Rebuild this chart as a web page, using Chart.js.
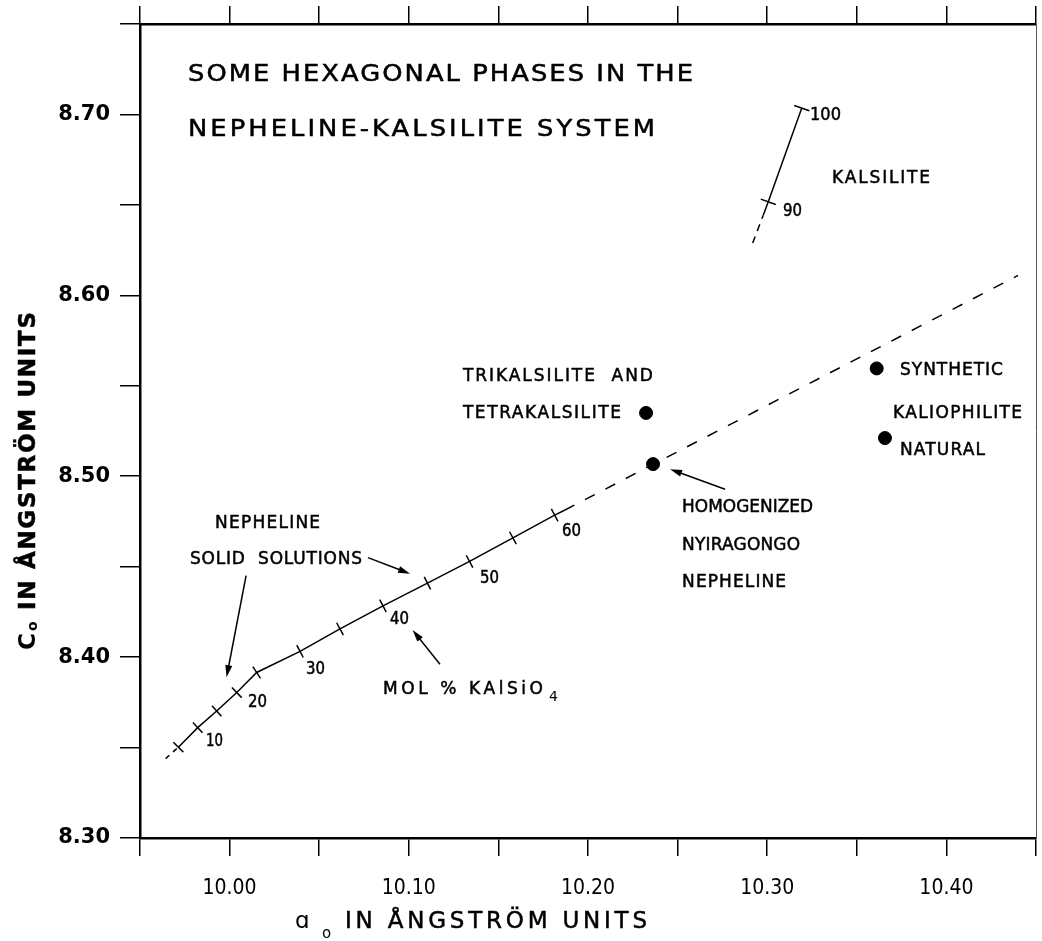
<!DOCTYPE html>
<html lang="en">
<head>
    <meta charset="UTF-8">
    <title>Some hexagonal phases in the nepheline-kalsilite system</title>
    <script src="https://cdn.jsdelivr.net/npm/chart.js"></script>
    <style>
        html, body { margin: 0; padding: 0; background: #fff; }
        #chart { display: block; }
    </style>
</head>
<body>
    <canvas id="chart" width="1042" height="941"></canvas>

    <script>
        // Nepheline solid solutions, a tick every 5 mol % KAlSiO4 (5 ... 60)
        const nephMol = [5, 10, 15, 20, 25, 30, 35, 40, 45, 50, 55, 60, null];
        const nephA = [9.9714, 9.9822, 9.9928, 10.004, 10.0151, 10.0393, 10.0616, 10.0856, 10.1104, 10.1339, 10.1581, 10.1814, 10.1869];
        const nephC = [8.3502, 8.361, 8.3702, 8.3804, 8.3915, 8.4032, 8.4156, 8.4283, 8.4409, 8.4529, 8.4659, 8.4785, 8.4812];
        // dashed bits: below 5 % and the extrapolation beyond the solid line
        const nephLowA = [9.9643, 9.9714];
        const nephLowC = [8.3439, 8.3502];
        const nephExtA = [10.1869, 10.44];
        const nephExtC = [8.4812, 8.611];

        // Kalsilite, ticks at 90 and 100 mol %
        const kalsMol = [null, 90, 100];
        const kalsA = [10.2978, 10.3006, 10.3193];
        const kalsC = [8.6443, 8.6517, 8.7035];
        const kalsExtA = [10.2919, 10.2978];
        const kalsExtC = [8.6289, 8.6443];

        // single phases (dots)
        const phaseNames = ['Trikalsilite and tetrakalsilite', 'Homogenized Nyiragongo nepheline', 'Synthetic kaliophilite', 'Natural kaliophilite'];
        const phaseA = [10.2324, 10.2363, 10.3611, 10.3657];
        const phaseC = [8.535, 8.5067, 8.5596, 8.5211];

        // axis labels
        const xLabels = ['10.00', '10.10', '10.20', '10.30', '10.40'];
        const yLabels = ['8.30', '8.40', '8.50', '8.60', '8.70'];

        const FONT = '"DejaVu Sans", "Liberation Sans", sans-serif';
        const big = '23px ' + FONT;
        const small = '17px ' + FONT;

        // text on the plot: text, a, c (left / middle), width in px, font, stretch
        const notes = [
            ['SOME HEXAGONAL PHASES IN THE', 9.9768, 8.7229, 505, big, 1.12],
            ['NEPHELINE-KALSILITE SYSTEM', 9.9768, 8.6928, 467, big, 1.12],
            ['KALSILITE', 10.3362, 8.6656, 98, small, 1],
            ['100', 10.3239, 8.7006, 31, small, 1],
            ['90', 10.3088, 8.6472, 19, small, 1],
            ['TRIKALSILITE  AND', 10.1302, 8.5561, 190, small, 1],
            ['TETRAKALSILITE', 10.1302, 8.5356, 158, small, 1],
            ['SYNTHETIC', 10.3741, 8.5594, 103, small, 1],
            ['KALIOPHILITE', 10.3702, 8.5356, 129, small, 1],
            ['NATURAL', 10.3741, 8.515, 85, small, 1],
            ['HOMOGENIZED', 10.2525, 8.4839, 131, small, 1],
            ['NYIRAGONGO', 10.2525, 8.4628, 118, small, 1],
            ['NEPHELINE', 10.2525, 8.4422, 104, small, 1],
            ['NEPHELINE', 9.9919, 8.475, 105, small, 1],
            ['SOLID  SOLUTIONS', 9.9779, 8.455, 172, small, 1],
            ['10', 9.9868, 8.3544, 17, small, 1],
            ['20', 10.0103, 8.3756, 19, small, 1],
            ['30', 10.0426, 8.3939, 19, small, 1],
            ['40', 10.0895, 8.4217, 19, small, 1],
            ['50', 10.1397, 8.4444, 19, small, 1],
            ['60', 10.1855, 8.4706, 19, small, 1],
            ['MOL % KAlSiO', 10.0856, 8.3828, 160, small, 1]
        ];

        // arrows: from (a, c) to (a, c)
        const arrows = [
            [10.0772, 8.455, 10.1007, 8.4461],
            [10.0092, 8.445, 9.9983, 8.3889],
            [10.1174, 8.3961, 10.1021, 8.415],
            [10.2765, 8.4928, 10.2458, 8.5039]
        ];

        const pts = (a, c) => a.map((v, i) => ({ x: v, y: c[i] }));

        // tick marks drawn perpendicular to the line
        function perpendicular(ctx) {
            const data = ctx.dataset.data;
            const i = ctx.dataIndex;
            const sx = ctx.chart.scales.x, sy = ctx.chart.scales.y;
            const p = data[Math.max(i - 1, 0)], q = data[Math.min(i + 1, data.length - 1)];
            const dx = sx.getPixelForValue(q.x) - sx.getPixelForValue(p.x);
            const dy = sy.getPixelForValue(q.y) - sy.getPixelForValue(p.y);
            return Math.atan2(dy, dx) * 180 / Math.PI + 90;
        }

        // left-aligned text stretched (or squeezed) to a given width, centred on yMid
        function fitText(ctx, text, x, yMid, width, font, k) {
            k = k || 1;
            const size = parseFloat(font.match(/([\d.]+)px/)[1]);
            ctx.font = font;
            ctx.letterSpacing = '0px';
            const w0 = ctx.measureText(text).width;
            if (k * w0 > width) k = width / w0;
            const sp = text.length > 1 ? (width - k * w0) / (text.length - 1) : 0;
            ctx.save();
            ctx.translate(x, yMid + size * 0.364);
            ctx.scale(k, 1);
            ctx.letterSpacing = (sp / k) + 'px';
            ctx.lineWidth = 0.5;
            ctx.fillText(text, 0, 0);
            ctx.strokeText(text, 0, 0);
            ctx.restore();
            ctx.letterSpacing = '0px';
        }

        function arrow(ctx, x1, y1, x2, y2) {
            const ang = Math.atan2(y2 - y1, x2 - x1);
            const len = 12, half = 3.5;
            ctx.beginPath();
            ctx.moveTo(x1, y1);
            ctx.lineTo(x2 - Math.cos(ang) * len * 0.8, y2 - Math.sin(ang) * len * 0.8);
            ctx.stroke();
            ctx.beginPath();
            ctx.moveTo(x2, y2);
            ctx.lineTo(x2 - Math.cos(ang) * len - Math.sin(ang) * half, y2 - Math.sin(ang) * len + Math.cos(ang) * half);
            ctx.lineTo(x2 - Math.cos(ang) * len + Math.sin(ang) * half, y2 - Math.sin(ang) * len - Math.cos(ang) * half);
            ctx.closePath();
            ctx.fill();
        }

        const notesPlugin = {
            id: 'notes',
            afterDraw(chart) {
                const ctx = chart.ctx;
                const sx = chart.scales.x, sy = chart.scales.y;
                ctx.save();
                ctx.fillStyle = '#000';
                ctx.strokeStyle = '#000';
                ctx.lineWidth = 1.5;
                ctx.textAlign = 'left';
                ctx.textBaseline = 'alphabetic';

                notes.forEach(n => fitText(ctx, n[0], sx.getPixelForValue(n[1]), sy.getPixelForValue(n[2]), n[3], n[4], n[5]));

                // subscript 4 of KAlSiO4
                const mol = notes[notes.length - 1];
                ctx.font = '14px ' + FONT;
                ctx.fillText('4', sx.getPixelForValue(mol[1]) + mol[3] + 6, sy.getPixelForValue(mol[2]) + 13);

                arrows.forEach(r => arrow(ctx, sx.getPixelForValue(r[0]), sy.getPixelForValue(r[1]),
                    sx.getPixelForValue(r[2]), sy.getPixelForValue(r[3])));

                // x axis title
                ctx.font = '23px ' + FONT;
                ctx.fillText('\u0251', 295, 928);
                ctx.font = '15px ' + FONT;
                ctx.fillText('o', 322, 938);
                fitText(ctx, 'IN ÅNGSTRÖM UNITS', 345, 919.5, 302, '23px ' + FONT);

                // y axis title, read bottom to top
                ctx.save();
                ctx.translate(35, 650);
                ctx.rotate(-Math.PI / 2);
                ctx.font = 'bold 23px ' + FONT;
                ctx.fillText('C', 0, 0);
                ctx.font = 'bold 14px ' + FONT;
                ctx.fillText('o', 19, 2);
                fitText(ctx, 'IN ÅNGSTRÖM UNITS', 40, -8.4, 298, 'bold 23px ' + FONT);
                ctx.restore();

                ctx.restore();
            }
        };

        const xTicks = {
            stepSize: 0.05, autoSkip: false, maxRotation: 0, padding: 20, color: '#000',
            font: { family: '"DejaVu Sans Condensed", "DejaVu Sans", sans-serif', size: 21 },
            callback: v => xLabels.includes(v.toFixed(2)) ? v.toFixed(2) : ''
        };
        const tickGrid = len => ({ drawOnChartArea: false, drawTicks: true, tickLength: len, color: '#000', lineWidth: 1.5 });
        const axisLine = { display: true, color: '#000', width: 2.5 };

        // fixed box sizes so the plot frame lands where it does in the figure
        const fixBox = (w, h) => s => {
            if (w !== null) s.width = w;
            if (h !== null) s.height = h;
            s.paddingLeft = 0; s.paddingRight = 0; s.paddingTop = 0; s.paddingBottom = 0;
        };

        const lineSet = (data, extra) => Object.assign({
            data: data, showLine: true, borderColor: '#000', borderWidth: 1.5,
            pointRadius: 0, pointHoverRadius: 0, fill: false
        }, extra);

        new Chart(document.getElementById('chart'), {
            type: 'scatter',
            data: {
                datasets: [
                    lineSet(pts(nephLowA, nephLowC), { borderDash: [5, 5] }),
                    lineSet(pts(nephA, nephC), {
                        pointStyle: 'line',
                        pointRadius: nephMol.map(m => m ? 7 : 0),
                        pointBorderColor: '#000', pointBorderWidth: 1.5,
                        pointRotation: perpendicular
                    }),
                    lineSet(pts(nephExtA, nephExtC), { borderDash: [11, 12] }),
                    lineSet(pts(kalsExtA, kalsExtC), { borderDash: [7, 6] }),
                    lineSet(pts(kalsA, kalsC), {
                        pointStyle: 'line',
                        pointRadius: kalsMol.map(m => m ? 8 : 0),
                        pointBorderColor: '#000', pointBorderWidth: 1.5,
                        pointRotation: perpendicular
                    }),
                    {
                        label: 'phases', data: pts(phaseA, phaseC), showLine: false,
                        pointRadius: 6.5, pointHoverRadius: 6.5,
                        backgroundColor: '#000', borderColor: '#000'
                    }
                ]
            },
            options: {
                responsive: false,
                animation: false,
                layout: { padding: 0, autoPadding: false },
                plugins: { legend: { display: false }, tooltip: { enabled: false } },
                scales: {
                    x: {
                        type: 'linear', position: 'bottom', min: 9.95, max: 10.45,
                        afterFit: fixBox(null, 103),
                        ticks: xTicks, grid: tickGrid(18), border: axisLine
                    },
                    xTop: {
                        type: 'linear', position: 'top', min: 9.95, max: 10.45,
                        afterFit: fixBox(null, 24),
                        ticks: { stepSize: 0.05, display: false },
                        grid: tickGrid(18), border: axisLine
                    },
                    y: {
                        type: 'linear', position: 'left', min: 8.30, max: 8.75,
                        afterFit: fixBox(140, null),
                        ticks: {
                            stepSize: 0.05, autoSkip: false, padding: 10, color: '#000',
                            font: { family: FONT, size: 21, weight: 'bold' },
                            callback: v => yLabels.includes(v.toFixed(2)) ? v.toFixed(2) : ''
                        },
                        grid: tickGrid(20), border: axisLine
                    },
                    yRight: {
                        type: 'linear', position: 'right', min: 8.30, max: 8.75,
                        afterFit: fixBox(6, null),
                        ticks: { display: false },
                        grid: { display: false },
                        border: { display: true, color: '#555', width: 1, dash: [8, 3] }
                    }
                }
            },
            plugins: [notesPlugin]
        });
    </script>
</body>
</html>
